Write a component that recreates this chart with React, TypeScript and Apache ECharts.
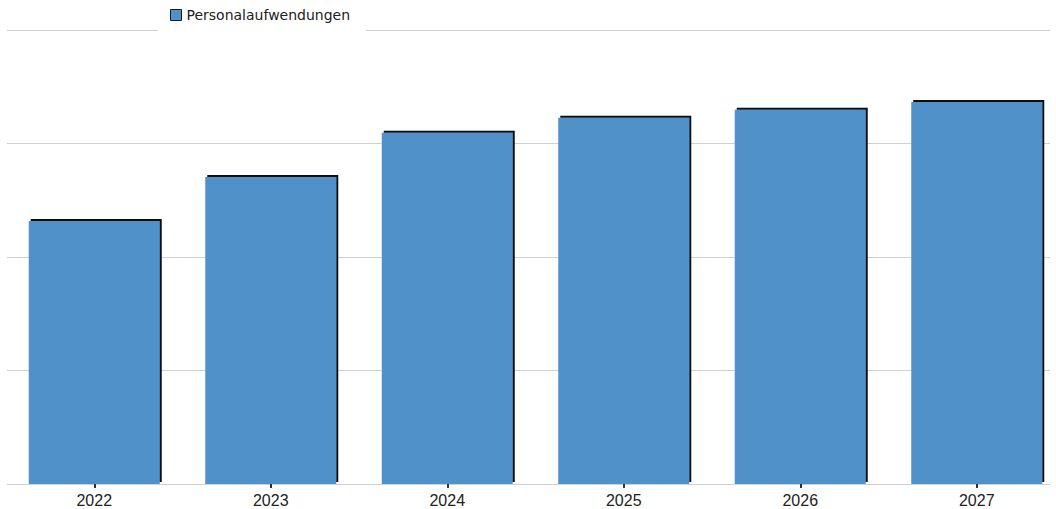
import React, { useEffect, useRef } from "react";
import * as echarts from "echarts";

const categories = ["2022", "2023", "2024", "2025", "2026", "2027"];
const seriesName = "Personalaufwendungen";
const values = [231.7, 270.5, 309.5, 322.7, 329.8, 336.6];
const yMin = 0;
const yMax = 400;
const yInterval = 100;

export default function App() {
  const ref = useRef<HTMLDivElement>(null);
  useEffect(() => {
    if (!ref.current) return;
    const chart = echarts.init(ref.current, undefined, { renderer: "svg" });
    chart.setOption({
      animation: false,
      backgroundColor: "#ffffff",
      grid: [
        { left: 7, right: 6, top: 30, bottom: 25, containLabel: false, outerBoundsMode: "none" },
        { left: 6, right: -9, top: 30, bottom: 25, containLabel: false, outerBoundsMode: "none" },
      ],
      legend: {
        data: [seriesName],
        left: 158,
        top: 0,
        padding: [8, 16, 9, 12],
        backgroundColor: "#ffffff",
        icon: "rect",
        itemWidth: 11,
        itemHeight: 11,
        itemGap: 10,
        textStyle: { fontFamily: "DejaVu Sans", fontSize: 14, color: "#222" },
        itemStyle: { borderColor: "#1a1a1a", borderWidth: 1 },
      },
      xAxis: [
        {
          gridIndex: 0,
          type: "category",
          data: categories,
          show: false,
        },
        {
          gridIndex: 1,
          type: "category",
          data: categories,
          axisLine: { show: false },
          axisTick: { show: true, alignWithLabel: true, length: 4, lineStyle: { color: "#333", width: 2 } },
          axisLabel: { fontFamily: "Liberation Sans", fontSize: 16, color: "#222", margin: 8 },
        },
      ],
      yAxis: [
        {
          gridIndex: 0,
          type: "value",
          min: yMin,
          max: yMax,
          interval: yInterval,
          axisLabel: { show: false },
          axisLine: { show: false },
          axisTick: { show: false },
          splitLine: { show: true, lineStyle: { color: "#d0d0d0", width: 1 } },
        },
        {
          gridIndex: 1,
          type: "value",
          min: yMin,
          max: yMax,
          interval: yInterval,
          axisLabel: { show: false },
          axisLine: { show: false },
          axisTick: { show: false },
          splitLine: { show: false },
        },
      ],
      series: [
        {
          name: seriesName,
          type: "bar",
          xAxisIndex: 1,
          yAxisIndex: 1,
          data: values,
          barWidth: 131,
          itemStyle: {
            color: "#4f91c8",
            shadowColor: "#111",
            shadowBlur: 0,
            shadowOffsetX: 2,
            shadowOffsetY: -2,
          },
          z: 3,
        },
      ],
    });
    return () => chart.dispose();
  }, []);
  return (
    <div
      ref={ref}
      style={{ position: "fixed", left: 0, top: 0, width: 1056, height: 509 }}
    />
  );
}
